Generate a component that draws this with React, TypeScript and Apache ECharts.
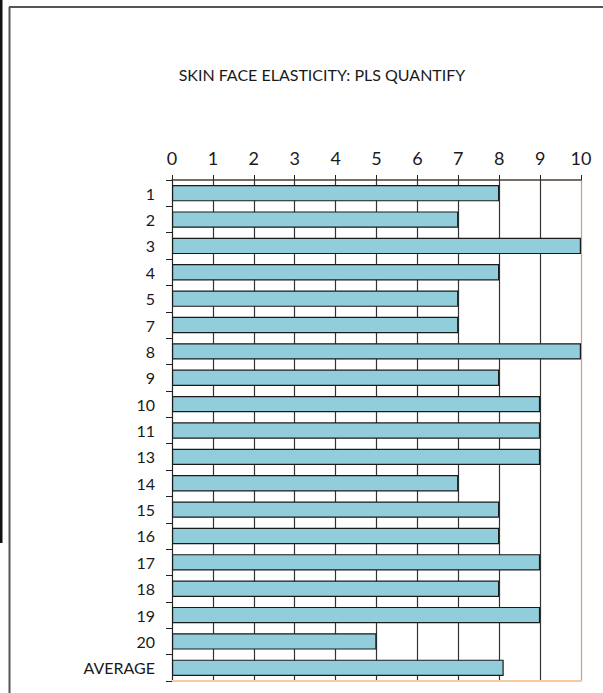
import React, { useEffect, useRef } from "react";
import * as echarts from "echarts";

const categories = ["1", "2", "3", "4", "5", "7", "8", "9", "10", "11", "13", "14", "15", "16", "17", "18", "19", "20", "AVERAGE"];
const values = [8, 7, 10, 8, 7, 7, 10, 8, 9, 9, 9, 7, 8, 8, 9, 8, 9, 5, 8.11];
const titleText = "SKIN FACE ELASTICITY: PLS QUANTIFY";

const FONT = "Lato, 'Open Sans', sans-serif";

export default function App() {
  const ref = useRef<HTMLDivElement>(null);
  useEffect(() => {
    if (!ref.current) return;
    const chart = echarts.init(ref.current, null, { renderer: "svg" });
    const splitColors: string[] = [];
    for (let i = 0; i <= 10; i++) splitColors.push(i === 10 ? "#c9a07a" : "#333333");
    chart.setOption({
      animation: false,
      backgroundColor: "#ffffff",
      title: {
        text: titleText,
        left: 317,
        top: 61,
        textAlign: "center",
        textStyle: { fontFamily: FONT, fontSize: 16, fontWeight: 400, color: "#1a1a1a" },
      },
      grid: { left: 172, right: 22, top: 180, bottom: 12, containLabel: false },
      xAxis: [
        {
          type: "value",
          position: "top",
          min: 0,
          max: 10,
          interval: 1,
          axisLine: { show: true, lineStyle: { color: "#4a3f35", width: 1.5 } },
          axisTick: { show: true, length: 5, lineStyle: { color: "#222" } },
          axisLabel: { fontFamily: FONT, fontSize: 18, fontWeight: 400, color: "#1a1a1a", margin: 13 },
          splitLine: { show: true, lineStyle: { color: splitColors, width: 1.2 } },
        },
        {
          type: "value",
          position: "bottom",
          min: 0,
          max: 10,
          interval: 1,
          axisLine: { show: true, lineStyle: { color: "#f7c9a0", width: 2 } },
          axisTick: { show: false },
          axisLabel: { show: false },
          splitLine: { show: false },
        },
      ],
      yAxis: {
        type: "category",
        inverse: true,
        data: categories,
        axisLine: { show: true, lineStyle: { color: "#222", width: 1 } },
        axisTick: { show: true, length: 6, lineStyle: { color: "#222" } },
        axisLabel: { fontFamily: FONT, fontSize: 16, fontWeight: 400, color: "#1a1a1a", margin: 17 },
      },
      series: [
        {
          type: "bar",
          xAxisIndex: 0,
          data: values,
          barCategoryGap: "38%",
          itemStyle: { color: "#92cddc", borderColor: "#1a1a1a", borderWidth: 1.2 },
        },
      ],
      graphic: [
        { type: "rect", shape: { x: 0, y: 0, width: 2.5, height: 543 }, style: { fill: "#111" } },
        { type: "line", shape: { x1: 9.5, y1: 7, x2: 9.5, y2: 693 }, style: { stroke: "#555", lineWidth: 2 } },
        { type: "line", shape: { x1: 9, y1: 7, x2: 603, y2: 7 }, style: { stroke: "#555", lineWidth: 2 } },
      ],
    });
    return () => chart.dispose();
  }, []);
  return <div ref={ref} style={{ position: "fixed", left: 0, top: 0, width: 603, height: 693 }} />;
}
